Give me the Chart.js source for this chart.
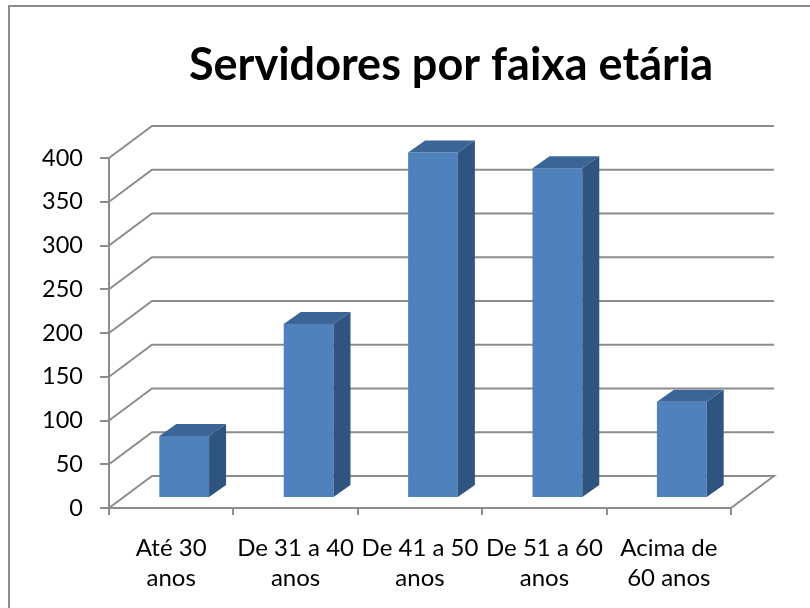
<!DOCTYPE html>
<html>
<head>
<meta charset="utf-8">
<script src="https://cdn.jsdelivr.net/npm/chart.js@4.4.1/dist/chart.umd.min.js"></script>
<style>
  html, body { margin: 0; padding: 0; background: #ffffff; }
  #wrap { width: 810px; height: 608px; }
</style>
</head>
<body>
<div id="wrap"><canvas id="c" width="810" height="608"></canvas></div>
<script>
const chartTitle = "Servidores por faixa etária";
const categories = [["Até 30", "anos"], ["De 31 a 40", "anos"], ["De 41 a 50", "anos"], ["De 51 a 60", "anos"], ["Acima de", "60 anos"]];
const servidores = [71, 199, 395, 377, 110];
const yMin = 0, yMax = 400, yStep = 50;

const GRID = '#8c8c8c';
const FRONT = '#4f81bd';
const TOP = '#3b6597';
const SIDE = '#2f5480';
const FONT = 'Lato, "Noto Sans", sans-serif';

// depth of the 3D box (back wall offset) and of the bars
const WALL_DX = 43, WALL_DY = -32;
const BAR_POS_DX = 13, BAR_POS_DY = -10;
const BAR_DX = 17, BAR_DY = -12;

const threeD = {
  id: 'threeD',
  beforeDatasetsDraw(chart) {
    const ctx = chart.ctx;
    const ys = chart.scales.y, area = chart.chartArea;
    ctx.save();
    ctx.strokeStyle = GRID;
    ctx.lineWidth = 2;
    ctx.lineJoin = 'miter';
    for (let v = yMin; v <= yMax; v += yStep) {
      const y = ys.getPixelForValue(v);
      ctx.beginPath();
      ctx.moveTo(area.left, y);
      ctx.lineTo(area.left + WALL_DX, y + WALL_DY);
      ctx.lineTo(area.right + WALL_DX, y + WALL_DY);
      if (v === yMin) ctx.lineTo(area.right, y);
      ctx.stroke();
    }
    ctx.restore();
  },
  beforeDatasetDraw(chart) {
    chart.ctx.save();
    chart.ctx.translate(BAR_POS_DX, BAR_POS_DY);
  },
  afterDatasetDraw(chart, args) {
    const ctx = chart.ctx;
    ctx.restore();
    ctx.save();
    args.meta.data.forEach(el => {
      const p = el.getProps(['x', 'y', 'base', 'width'], true);
      const l = p.x - p.width / 2 + BAR_POS_DX, r = p.x + p.width / 2 + BAR_POS_DX;
      const t = p.y + BAR_POS_DY, b = p.base + BAR_POS_DY;
      ctx.fillStyle = TOP;
      ctx.beginPath();
      ctx.moveTo(l, t); ctx.lineTo(r, t); ctx.lineTo(r + BAR_DX, t + BAR_DY); ctx.lineTo(l + BAR_DX, t + BAR_DY);
      ctx.closePath(); ctx.fill();
      ctx.fillStyle = SIDE;
      ctx.beginPath();
      ctx.moveTo(r, t); ctx.lineTo(r + BAR_DX, t + BAR_DY); ctx.lineTo(r + BAR_DX, b + BAR_DY); ctx.lineTo(r, b);
      ctx.closePath(); ctx.fill();
    });
    ctx.restore();
  },
  afterDraw(chart) {
    const ctx = chart.ctx;
    ctx.save();
    ctx.strokeStyle = GRID;
    ctx.lineWidth = 2;
    ctx.strokeRect(9, 6, 900, 700);
    ctx.fillStyle = '#000';
    ctx.font = 'bold 45px ' + FONT;
    ctx.textAlign = 'center';
    ctx.textBaseline = 'alphabetic';
    ctx.fillText(chartTitle, 451, 80);
    ctx.restore();
  }
};

new Chart(document.getElementById('c'), {
  type: 'bar',
  data: {
    labels: categories,
    datasets: [{
      data: servidores,
      backgroundColor: FRONT,
      borderWidth: 0,
      categoryPercentage: 1,
      barPercentage: 0.4,
      clip: false
    }]
  },
  options: {
    responsive: false,
    animation: false,
    devicePixelRatio: 1,
    layout: { padding: { top: 158, right: 79, left: 0, bottom: 0 } },
    plugins: { legend: { display: false }, title: { display: false }, tooltip: { enabled: false } },
    scales: {
      x: {
        afterFit: s => { s.height = 100; },
        grid: { display: true, drawOnChartArea: false, drawTicks: true, tickLength: 7, offset: true, color: GRID, lineWidth: 2 },
        border: { display: true, color: GRID, width: 2 },
        ticks: { color: '#000', font: { family: FONT, size: 24, lineHeight: 1.22 }, padding: 19, maxRotation: 0, autoSkip: false }
      },
      y: {
        min: yMin, max: yMax,
        afterFit: s => { s.width = 109; },
        grid: { display: true, drawOnChartArea: false, drawTicks: true, tickLength: 9, color: GRID, lineWidth: 2 },
        border: { display: true, color: GRID, width: 2 },
        ticks: { stepSize: yStep, color: '#000', font: { family: FONT, size: 23.5 }, padding: 17 }
      }
    }
  },
  plugins: [threeD]
});
</script>
</body>
</html>
